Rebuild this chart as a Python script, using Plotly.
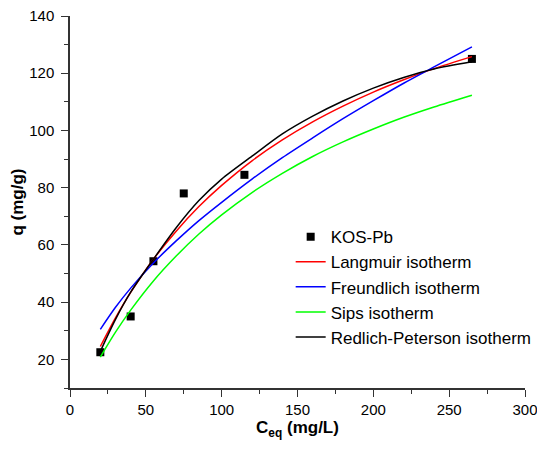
import plotly.graph_objects as go

# Experimental data (KOS-Pb)
c_exp = [20, 40, 55, 75, 115, 265]
q_exp = [22.5, 35, 54.3, 78, 84.5, 125]

# Model curves, values
c_fit = [20, 30, 40, 55, 70, 85, 100, 120, 140, 160, 180, 200, 220, 240, 265]
q_langmuir = [24.5, 34.5, 43.4, 55.0, 64.8, 73.4, 80.8, 89.4, 96.7, 103.0, 108.5, 113.4, 117.7, 121.6, 125.8]
q_freundlich = [30.5, 38.2, 44.9, 53.7, 61.4, 68.5, 74.9, 83.0, 90.5, 97.4, 104.1, 110.4, 116.5, 122.2, 129.2]
q_sips = [20.8, 29.5, 37.2, 47.4, 56.1, 63.8, 70.5, 78.3, 85.0, 90.9, 96.0, 100.5, 104.6, 108.2, 112.3]
q_rp = [22.8, 34.0, 43.5, 55.0, 66.0, 75.5, 83.0, 91.0, 98.8, 105.0, 110.3, 114.8, 118.5, 121.5, 124.0]

font_family = "Liberation Sans, Arial, sans-serif"

fig = go.Figure()
fig.add_trace(go.Scatter(x=c_exp, y=q_exp, mode="markers", name="KOS-Pb",
                         marker=dict(symbol="square", size=8, color="black")))
for name, vals, col in [("Langmuir isotherm", q_langmuir, "#ff0000"),
                        ("Freundlich isotherm", q_freundlich, "#0000ff"),
                        ("Sips isotherm", q_sips, "#00ff00"),
                        ("Redlich-Peterson isotherm", q_rp, "#000000")]:
    fig.add_trace(go.Scatter(x=c_fit, y=vals, mode="lines", name=name,
                             line=dict(color=col, width=1.5, shape="spline", smoothing=0.8)))

axis_common = dict(showline=True, linecolor="#333333", linewidth=1.5, mirror=False,
                   showgrid=False, zeroline=False, ticks="outside", ticklen=7,
                   tickwidth=1.3, tickcolor="#333333", automargin=False,
                   ticklabeloverflow="allow",
                   tickfont=dict(family=font_family, size=15, color="black"))

fig.update_layout(
    width=537, height=432,
    margin=dict(l=62, r=20, t=8, b=52),
    paper_bgcolor="white", plot_bgcolor="white",
    font=dict(family=font_family, color="black"),
    xaxis=dict(range=[0, 300], tick0=0, dtick=50,
               title=dict(text="<b>C<sub>eq</sub> (mg/L)</b>", font=dict(size=17), standoff=7),
               minor=dict(ticks="outside", ticklen=4, dtick=25, tickcolor="#333333", tickwidth=1.3),
               **axis_common),
    yaxis=dict(range=[10, 140], tick0=0, dtick=20, ticklabelstandoff=4,
               title=dict(text="<b>q (mg/g)</b>", font=dict(size=17), standoff=6),
               minor=dict(ticks="outside", ticklen=4, dtick=10, tick0=0, tickcolor="#333333", tickwidth=1.3),
               **axis_common),
    legend=dict(x=0.485, y=0.454, xanchor="left", yanchor="top",
                bgcolor="rgba(0,0,0,0)", font=dict(size=17, family=font_family),
                itemwidth=30, tracegroupgap=0),
    showlegend=True,
)

fig.write_html("out.html")
